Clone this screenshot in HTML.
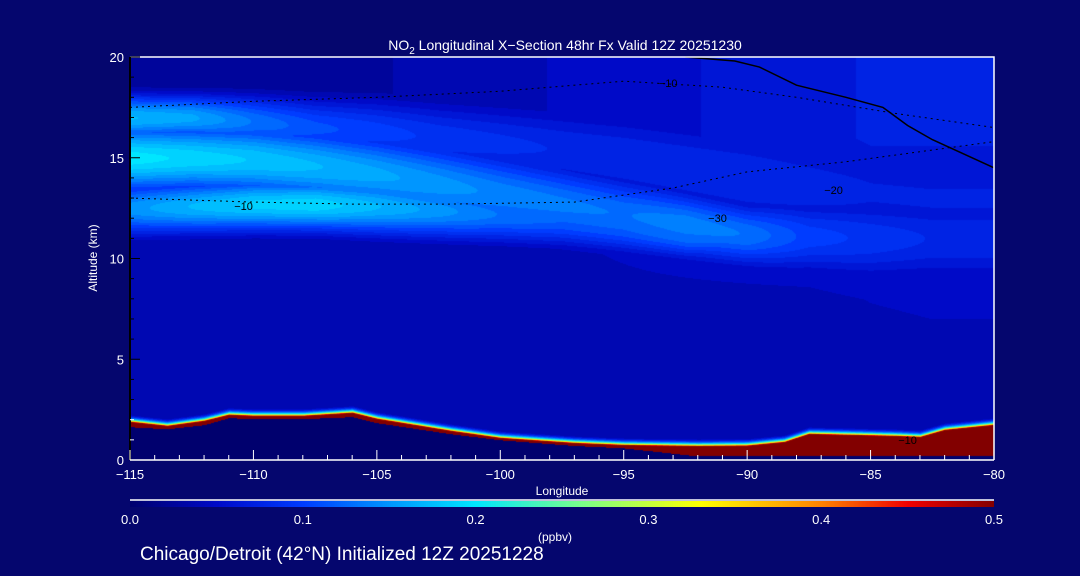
<!DOCTYPE html>
<html><head><meta charset="utf-8">
<style>
html,body{margin:0;padding:0;background:#05066e;}
#wrap{position:relative;width:1080px;height:576px;overflow:hidden;background:#05066e;font-family:"Liberation Sans",sans-serif;color:#fff;}
#field{position:absolute;left:130px;top:57px;}
#cbar{position:absolute;left:130px;top:501px;}
svg{position:absolute;left:0;top:0;}
</style></head>
<body>
<div id="wrap">
<canvas id="field" width="864" height="403"></canvas>
<canvas id="cbar" width="864" height="6"></canvas>
<svg id="ov" width="1080" height="576"></svg>
</div>
<script>
// ---- data ----
const lons = [-115,-112.5,-110,-107.5,-105,-102.5,-100,-97.5,-95,-92.5,-90,-87.5,-85,-82.5,-80];
const band1Center = [15,15,14.9,14.6,14.2,13.7,13.2,12.7,12.2,11.7,11.2,11.1,11,11,11];
const band1Peak   = [0.2,0.19,0.18,0.17,0.16,0.15,0.14,0.135,0.13,0.14,0.13,0.1,0.09,0.08,0.08];
const band1Width  = [1.8,1.8,1.9,2.0,2.1,2.2,2.2,2.1,2.0,1.8,1.7,2.0,2.3,2.4,2.4];
const band2Center = [17,17,16.8,16.5,16.3,16,15.7,15.4,15,14.5,14,13.6,13.3,13,13];
const band2Peak   = [0.17,0.16,0.13,0.11,0.1,0.09,0.085,0.08,0.08,0.08,0.08,0.075,0.07,0.07,0.07];
const band2Width  = [1.2,1.2,1.4,1.6,1.8,2.0,2.2,2.4,2.6,2.8,3.0,3.2,3.4,3.4,3.4];
const band3Center = [12.5,12.6,12.7,12.7,12.6,12.4,12.2,12,11.6,11.2,11,11,11,11,11];
const band3Peak   = [0.15,0.17,0.185,0.19,0.17,0.15,0.13,0.12,0.12,0.13,0.12,0.09,0.08,0.07,0.07];
const band3Width  = [1.4,1.4,1.4,1.4,1.5,1.5,1.5,1.5,1.4,1.3,1.3,1.5,1.7,1.8,1.8];
const baseLow = [0.032,0.032,0.032,0.032,0.032,0.032,0.032,0.032,0.032,0.032,0.032,0.032,0.034,0.035,0.035];
const baseTop = [0.02,0.02,0.022,0.025,0.03,0.035,0.04,0.045,0.05,0.055,0.06,0.065,0.07,0.07,0.07];
const terrLons = [-115,-113.5,-112,-111,-110,-108,-106,-105,-102,-100,-97,-95,-92,-90,-88.5,-87.5,-84,-83,-82,-80];
const terrTop  = [1.9,1.7,1.95,2.25,2.2,2.2,2.35,2.05,1.45,1.1,0.85,0.75,0.7,0.72,0.9,1.3,1.2,1.15,1.5,1.75];
const terrBot  = [1.65,1.55,1.75,2.1,2.05,2.05,2.15,1.85,1.3,1.0,0.72,0.6,0.2,0.2,0.2,0.2,0.2,0.2,0.2,0.2];
const xTicks = [-115,-110,-105,-100,-95,-90,-85,-80];
const yTicks = [0,5,10,15,20];
const cbTicks = [0.0,0.1,0.2,0.3,0.4,0.5];

// ---- axes ----
const X0=130,X1=994,Y0=460,Y1=57;
const xs = l => X0+(l-(-115))/35*(X1-X0);
const ys = a => Y0-a/20*(Y0-Y1);
function interp(arrX, arrY, x){
  if(x<=arrX[0]) return arrY[0];
  for(let i=1;i<arrX.length;i++){ if(x<=arrX[i]){const t=(x-arrX[i-1])/(arrX[i]-arrX[i-1]);return arrY[i-1]+t*(arrY[i]-arrY[i-1]);} }
  return arrY[arrY.length-1];
}
const stops=[[0,[0,0,110]],[0.05,[0,10,200]],[0.1,[0,60,255]],[0.15,[0,150,255]],[0.2,[0,230,255]],[0.26,[120,255,140]],[0.33,[255,255,0]],[0.4,[255,130,0]],[0.45,[240,0,0]],[0.5,[130,0,0]]];
function cmap(v){
  v=Math.max(0,Math.min(0.5,v));
  for(let i=1;i<stops.length;i++){ if(v<=stops[i][0]){const a=stops[i-1],b=stops[i];const t=(v-a[0])/(b[0]-a[0]);return a[1].map((c,k)=>Math.round(c+t*(b[1][k]-c)));} }
  return stops[stops.length-1][1];
}
function g(a,c,w){const d=(a-c)/w;return Math.exp(-d*d);}
const cv=document.getElementById('field'),ctx=cv.getContext('2d');
const img=ctx.createImageData(864,403);
for(let px=0;px<864;px++){
  const lon=-115+px/864*35;
  const c1=interp(lons,band1Center,lon),p1=interp(lons,band1Peak,lon),w1=interp(lons,band1Width,lon);
  const c2=interp(lons,band2Center,lon),p2=interp(lons,band2Peak,lon),w2=interp(lons,band2Width,lon);
  const c3=interp(lons,band3Center,lon),p3=interp(lons,band3Peak,lon),w3=interp(lons,band3Width,lon);
  const bl=interp(lons,baseLow,lon),bt=interp(lons,baseTop,lon);
  const tt=interp(terrLons,terrTop,lon),tb=interp(terrLons,terrBot,lon);
  for(let py=0;py<403;py++){
    const alt=(403-py)/403*20;
    let v;
    if(alt<tb) v=0;
    else if(alt<=tt) v=0.5;
    else{
      const bg = alt<8 ? bl+0.01*alt/8 : (bl+0.01)+(bt-bl-0.01)*Math.min(1,(alt-8)/8);
      const top = alt>18 ? Math.max(0,1-(alt-18)/2.5) : 1;
      v=Math.max(bg,p1*g(alt,c1,w1),p2*g(alt,c2,w2),p3*g(alt,c3,w3));
      v=bg+(v-bg)*top;
      const d=alt-tt;
      v=Math.max(v,0.5*Math.exp(-d/0.14));
    }
    v=Math.round(v/0.0125)*0.0125;
    const col=cmap(v),o=(py*864+px)*4;
    img.data[o]=col[0];img.data[o+1]=col[1];img.data[o+2]=col[2];img.data[o+3]=255;
  }
}
ctx.putImageData(img,0,0);
const cb=document.getElementById('cbar').getContext('2d');
for(let px=0;px<864;px++){const c=cmap(px/864*0.5);cb.fillStyle=`rgb(${c[0]},${c[1]},${c[2]})`;cb.fillRect(px,0,1,6);}

// ---- overlay ----
const NS='http://www.w3.org/2000/svg',ov=document.getElementById('ov');
function mk(tag,attrs,parent){const e=document.createElementNS(NS,tag);for(const k in attrs)e.setAttribute(k,attrs[k]);(parent||ov).appendChild(e);return e;}
function txt(x,y,s,size,anchor,name,fill){const t=mk('text',{x:x,y:y,fill:fill||'#fff','font-size':size,'text-anchor':anchor,'font-family':'Liberation Sans, sans-serif'});t.textContent=s;


return t;}
const zeroLon=[-92.5,-90.5,-89.5,-88,-86,-84.5,-83.5,-82.5,-80];
const zeroAlt=[20,19.8,19.5,18.6,18,17.5,16.6,15.9,14.5];
const zl=mk('polyline',{points:zeroLon.map((l,i)=>`${xs(l)},${ys(zeroAlt[i])}`).join(' '),fill:'none',stroke:'#000','stroke-width':1.5});


const dotLons=[[-115,-110,-106,-102,-97,-93,-90,-86,-83,-80],[-115,-110,-105,-100,-95,-91,-88,-84,-80]];
const dotAlts=[[13,12.8,12.7,12.7,12.8,13.5,14.3,14.8,15.3,15.8],[17.5,17.8,18,18.3,18.8,18.5,18,17.2,16.5]];
dotLons.forEach((arr,j)=>{const p=mk('polyline',{points:arr.map((l,i)=>`${xs(l)},${ys(dotAlts[j][i])}`).join(' '),fill:'none',stroke:'#000','stroke-width':1,'stroke-dasharray':'2 4'});

});
txt(xs(-110.4),ys(12.4),'−10',11,'middle','contour-label','#000');
txt(xs(-91.2),ys(11.8),'−30',11,'middle','contour-label','#000');
txt(xs(-86.5),ys(13.2),'−20',11,'middle','contour-label','#000');
txt(xs(-93.2),ys(18.5),'−10',11,'middle','contour-label','#000');
txt(xs(-83.5),ys(0.8),'−10',11,'middle','contour-label','#000');
const fr=mk('path',{d:`M${X0},${Y1}H${X1}V${Y0}`,fill:'none',stroke:'#fff','stroke-width':1.5});


const ya=mk('line',{x1:X0,y1:Y1,x2:X0,y2:Y0,stroke:'#000','stroke-width':2});


const xa=mk('line',{x1:X0,y1:Y0,x2:X1,y2:Y0,stroke:'#fff','stroke-width':1.5});


for(let l=-115;l<=-80;l++){const maj=(l%5===0);mk('line',{x1:xs(l),y1:Y0,x2:xs(l),y2:Y0-(maj?10:5),stroke:'#fff','stroke-width':1});}
xTicks.forEach(l=>txt(xs(l),479,'−'+Math.abs(l),13,'middle','x-tick-label'));
for(let a=0;a<=20;a++){const maj=(a%5===0);mk('line',{x1:X0,y1:ys(a),x2:X0+(maj?10:4),y2:ys(a),stroke:a<3?'#fff':'#000','stroke-width':1});}
yTicks.forEach(a=>txt(124,ys(a)+5,String(a),13,'end','y-tick-label'));
const yt=txt(0,0,'Altitude (km)',12,'middle','y-axis-title');yt.setAttribute('transform','translate(97,258) rotate(-90)');
txt(562,495,'Longitude',12,'middle','x-axis-title');
const tt=mk('text',{x:565,y:50,fill:'#fff','font-size':14,'text-anchor':'middle','font-family':'Liberation Sans, sans-serif'});


tt.innerHTML='NO<tspan font-size="10" dy="4">2</tspan><tspan dy="-4"> Longitudinal X−Section 48hr  Fx Valid 12Z 20251230</tspan>';
const cl=mk('line',{x1:X0,y1:500,x2:X1,y2:500,stroke:'#fff','stroke-width':1.5});


cbTicks.forEach(v=>txt(X0+v/0.5*(X1-X0),524,v.toFixed(1),13,'middle','colorbar-tick-label'));
txt(555,541,'(ppbv)',12,'middle','colorbar-units');
txt(140,560,'Chicago/Detroit (42°N) Initialized 12Z 20251228',19,'start','footer-caption');
</script>
</body></html>
